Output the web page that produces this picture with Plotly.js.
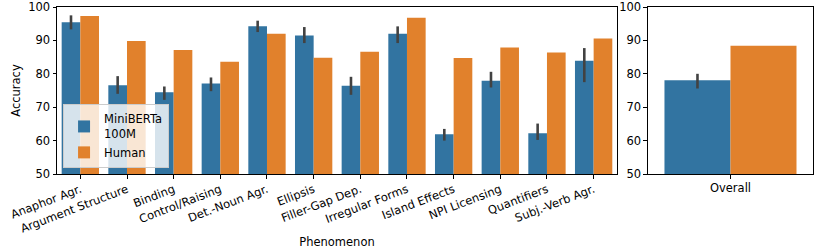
<!DOCTYPE html>
<html><head><meta charset="utf-8">
<script src="https://cdn.plot.ly/plotly-3.0.1.min.js"></script>
<style>html,body{margin:0;padding:0;background:#fff;}#chart{width:830px;height:249px;}</style>
</head><body><div id="chart"></div>
<script>
const categories = ["Anaphor Agr.","Argument Structure","Binding","Control/Raising","Det.-Noun Agr.","Ellipsis","Filler-Gap Dep.","Irregular Forms","Island Effects","NPI Licensing","Quantifiers","Subj.-Verb Agr."];
const modelValues = [95.4,76.6,74.5,77.1,94.2,91.5,76.4,92.0,61.9,77.9,62.2,83.9];
const modelHigh   = [97.5,79.3,76.2,78.9,95.9,94.0,79.1,94.2,63.5,80.6,65.1,87.7];
const modelLow    = [93.3,74.0,72.2,74.8,92.5,89.2,73.7,89.2,60.0,75.9,60.2,77.5];
const humanValues = [97.3,89.8,87.1,83.6,92.0,84.8,86.6,96.8,84.7,87.9,86.4,90.6];
const overallCategory = ["Overall"];
const overallModel = [78.1];
const overallModelHigh = [80.0];
const overallModelLow = [75.6];
const overallHuman = [88.4];
const seriesNames = ["MiniBERTa<br>100M","Human"];

const blue = "#3274a1", orange = "#e1812c", errc = "#424242";
const font = {family: "DejaVu Sans, sans-serif", size: 11.5, color: "#000"};

function errBar(vals, hi, lo) {
  return {type:"data", symmetric:false,
    array: vals.map((v,i)=>hi[i]-v), arrayminus: vals.map((v,i)=>v-lo[i]),
    color: errc, thickness: 2.6, width: 0};
}

const traces = [
  {type:"bar", name: seriesNames[0], x: categories, y: modelValues, marker:{color:blue},
   error_y: errBar(modelValues, modelHigh, modelLow), xaxis:"x", yaxis:"y"},
  {type:"bar", name: seriesNames[1], x: categories, y: humanValues, marker:{color:orange},
   xaxis:"x", yaxis:"y"},
  {type:"bar", name: seriesNames[0], x: overallCategory, y: overallModel, marker:{color:blue}, showlegend:false,
   error_y: errBar(overallModel, overallModelHigh, overallModelLow), xaxis:"x2", yaxis:"y2"},
  {type:"bar", name: seriesNames[1], x: overallCategory, y: overallHuman, marker:{color:orange}, showlegend:false,
   xaxis:"x2", yaxis:"y2"}
];

const axisCommon = {showline:true, mirror:true, linecolor:"#000", linewidth:1, ticks:"outside", ticklen:3.5,
  tickcolor:"#000", tickwidth:1, showgrid:false, zeroline:false, tickfont: font};

const layout = {
  width:830, height:249, margin:{l:57, r:17, t:7, b:75},
  paper_bgcolor:"#fff", plot_bgcolor:"#fff", font: font,
  barmode:"group", bargap:0.2, bargroupgap:0,
  xaxis: Object.assign({}, axisCommon, {domain:[0,0.7407], tickangle:-21, anchor:"y",
    title:{text:"Phenomenon", font: font, standoff: 4}}),
  yaxis: Object.assign({}, axisCommon, {range:[50,100], tickvals:[50,60,70,80,90,100], anchor:"x",
    title:{text:"Accuracy", font: font, standoff: 5}}),
  xaxis2: Object.assign({}, axisCommon, {domain:[0.7817,1], anchor:"y2"}),
  yaxis2: Object.assign({}, axisCommon, {range:[50,100], tickvals:[50,60,70,80,90,100], anchor:"x2"}),
  legend:{x:0.008, y:0.036, xanchor:"left", yanchor:"bottom", bgcolor:"rgba(255,255,255,0.8)",
    bordercolor:"#cccccc", borderwidth:1, font: font, tracegroupgap:0, valign:"middle", traceorder:"normal"},
  showlegend:true
};

Plotly.newPlot("chart", traces, layout, {staticPlot:true, displayModeBar:false});
</script></body></html>
